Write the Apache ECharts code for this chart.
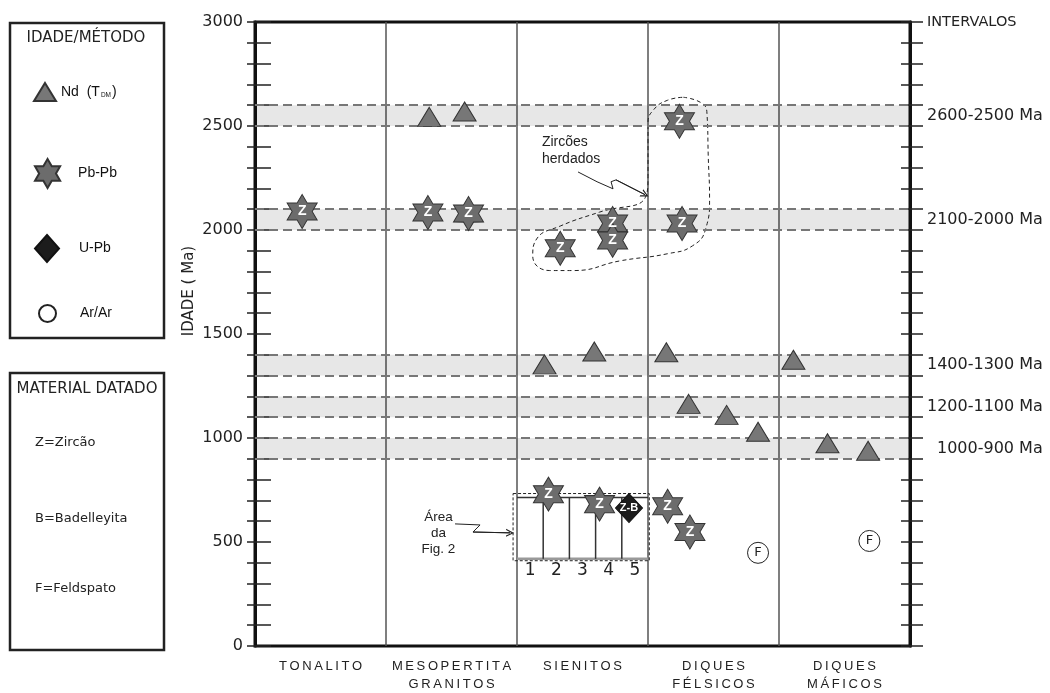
<!DOCTYPE html>
<html><head><meta charset="utf-8">
<script src="https://cdn.jsdelivr.net/npm/echarts@6/dist/echarts.min.js"></script>
<style>html,body{margin:0;padding:0;background:#fff}#c{width:1050px;height:693px}</style>
</head><body><div id="c"></div>
<script>
// ---------- data ----------
const categories = ['TONALITO', 'MESOPERTITA\nGRANITOS', 'SIENITOS', 'DIQUES\nFÉLSICOS', 'DIQUES\nMÁFICOS'];
const yMin = 0, yMax = 3000, yMinorStep = 100, yLabelStep = 500;

// Nd (T_DM) ages  [x position within 0..5 category span, age Ma]
const ndPoints = [[1.33, 2544], [1.60, 2570], [2.21, 1354], [2.59, 1416], [3.14, 1412], [3.31, 1164],
  [3.60, 1111], [3.84, 1030], [4.11, 1376], [4.37, 975], [4.68, 939]];
// Pb-Pb zircon ages
const pbPoints = [[0.36, 2089], [1.32, 2084], [1.63, 2079], [2.33, 1912], [2.73, 2031], [2.73, 1950],
  [3.24, 2523], [3.26, 2031], [2.24, 730], [2.63, 682], [3.15, 672], [3.32, 548]];
// U-Pb zircon-baddeleyite
const uPbPoints = [[2.855, 663]];
// Ar/Ar feldspar
const arPoints = [[3.84, 448], [4.69, 505]];

const bandRanges = [[2500, 2600], [2000, 2100], [1300, 1400], [1100, 1200], [900, 1000]];
const intervalLabelValues = [3000, 2550, 2050, 1350, 1150, 950];
const intervalLabels = ['INTERVALOS', '2600-2500 Ma', '2100-2000 Ma', '1400-1300 Ma', '1200-1100 Ma', '1000-900 Ma'];

// Annotation geometry (data coordinates)
const inheritedOutline = [[3.27, 2638], [3.41, 2610], [3.45, 2562], [3.46, 2352], [3.47, 2148], [3.44, 2005],
  [3.34, 1924], [3.15, 1886], [2.79, 1852], [2.43, 1805], [2.25, 1805], [2.12, 1876], [2.15, 1957],
  [2.33, 2019], [2.63, 2086], [2.98, 2157], [3.00, 2257], [3.00, 2433], [3.00, 2514], [3.04, 2576],
  [3.15, 2624], [3.27, 2638]];
const inheritedArrow = [[2.466, 2279], [2.611, 2232], [2.733, 2198], [2.718, 2232], [2.756, 2241], [2.977, 2170]];
const figArrow = [[1.527, 587], [1.718, 582], [1.664, 548], [1.947, 544]];
const figOuter = [[1.97, 733], [3.01, 733], [3.01, 410], [1.97, 410], [1.97, 733]];
const figTop = 714, figBottom = 419, figLeft = 2.0, figRight = 3.0;
const figDividers = [2.2, 2.4, 2.6, 2.8];
const figNumbers = ['1', '2', '3', '4', '5'];
const figNumberX = [2.1, 2.3, 2.5, 2.7, 2.9];
const figNumberY = 362;
const noteInherited = { pos: [2.19, 2380], text: 'Zircões\nherdados' };
const noteFig = { pos: [1.40, 543], text: 'Área\nda\nFig. 2' };

const materialItems = ['Z=Zircão', 'B=Badelleyita', 'F=Feldspato'];

// ---------- chart ----------
const spaced = s => s.split('\n').map(l => l.split('').join('\u2009')).join('\n');
const STAR = 'path://M50,0L64.5,24.9L93.3,25L79,50L93.3,75L64.5,75.1L50,100L35.5,75.1L6.7,75L21,50L6.7,25L35.5,24.9Z';
const CHEVRON = 'path://M0,10L5,0L10,10L8.4,10L5,3.2L1.6,10Z';
const GOTHIC = '"DejaVu Sans", sans-serif';
const ARIAL = '"Liberation Sans", Arial, sans-serif';

const chart = echarts.init(document.getElementById('c'), null, { renderer: 'canvas' });

const boundaries = [];
bandRanges.forEach(r => { boundaries.push(r[0], r[1]); });
const lastSeg = pts => [pts[pts.length - 2], pts[pts.length - 1]];

const yBase = { type: 'value', min: yMin, max: yMax, interval: yMinorStep, splitLine: { show: false } };

const option = {
  animation: false,
  backgroundColor: '#fff',
  grid: { left: 255, right: 140, top: 22, bottom: 42, show: true, borderColor: '#111', borderWidth: 3, backgroundColor: 'transparent' },
  xAxis: [
    {
      type: 'category', data: categories.map(spaced), boundaryGap: true, position: 'bottom',
      axisLine: { show: false }, axisTick: { show: false },
      splitLine: { show: true, interval: 0, lineStyle: { color: '#555', width: 1.5 } },
      axisLabel: { interval: 0, fontSize: 13, color: '#222', fontFamily: ARIAL, margin: 11, lineHeight: 18 }
    },
    { type: 'value', min: 0, max: 5, show: false }
  ],
  yAxis: [
    Object.assign({}, yBase, {
      position: 'left',
      axisLine: { show: true, lineStyle: { color: '#111', width: 3 } },
      axisTick: { show: true, inside: true, length: 16, lineStyle: { color: '#222', width: 1.5 } },
      axisLabel: { formatter: v => (v % yLabelStep === 0 ? String(v) : ''), fontSize: 16, color: '#222', fontFamily: GOTHIC, margin: 12 }
    }),
    Object.assign({}, yBase, {
      position: 'left',
      axisLine: { show: false },
      axisTick: { show: true, inside: false, length: 8, lineStyle: { color: '#222', width: 1.5 } },
      axisLabel: { show: false }
    }),
    Object.assign({}, yBase, {
      position: 'right',
      axisLine: { show: true, lineStyle: { color: '#111', width: 3 } },
      axisTick: { show: true, inside: true, length: 9, lineStyle: { color: '#222', width: 1.5 } },
      axisLabel: { show: false }
    }),
    Object.assign({}, yBase, {
      position: 'right',
      axisLine: { show: false },
      axisTick: { show: true, inside: false, length: 13, lineStyle: { color: '#222', width: 1.5 } },
      axisLabel: { show: false }
    }),
    {
      type: 'value', min: yMin, max: yMax, interval: 50, position: 'right',
      splitLine: { show: false }, axisLine: { show: false }, axisTick: { show: false },
      axisLabel: {
        margin: 17, color: '#222', fontFamily: GOTHIC,
        formatter: v => {
          const i = intervalLabelValues.indexOf(v);
          if (i < 0) return '';
          if (i === 0) return '{t|' + intervalLabels[i] + '}';
          if (i === intervalLabels.length - 1) return '{p|' + intervalLabels[i] + '}';
          return '{m|' + intervalLabels[i] + '}';
        },
        rich: {
          t: { fontSize: 14.5, fontFamily: GOTHIC, color: '#222' },
          m: { fontSize: 16, fontFamily: GOTHIC, color: '#222' },
          p: { fontSize: 16, fontFamily: GOTHIC, color: '#222', padding: [0, 0, 0, 10] }
        }
      }
    }
  ],
  legend: [
    {
      data: ['Nd'], left: 28, top: 77, itemWidth: 22, itemHeight: 18, selectedMode: false,
      formatter: () => '{a|Nd  (T}{s|DM}{a|)}',
      textStyle: { rich: { a: { fontSize: 14, fontFamily: ARIAL, color: '#111' }, s: { fontSize: 6.5, fontFamily: ARIAL, color: '#111', padding: [7, 1, 0, 1] } } }
    },
    { data: ['Pb-Pb'], left: 29, top: 153, itemWidth: 27, itemHeight: 29, selectedMode: false,
      textStyle: { fontSize: 14, fontFamily: ARIAL, color: '#111', padding: [0, 0, 0, 12] } },
    { data: ['U-Pb'], left: 29, top: 229, itemWidth: 24, itemHeight: 27, selectedMode: false,
      textStyle: { fontSize: 14, fontFamily: ARIAL, color: '#111', padding: [0, 0, 0, 15] } },
    { data: ['Ar/Ar'], left: 33, top: 299, itemWidth: 17, itemHeight: 17, selectedMode: false,
      textStyle: { fontSize: 14, fontFamily: ARIAL, color: '#111', padding: [0, 0, 0, 19] } }
  ],
  graphic: [
    { type: 'rect', shape: { x: 10, y: 23, width: 154, height: 315 }, style: { fill: 'none', stroke: '#222', lineWidth: 2.5 } },
    { type: 'rect', shape: { x: 10, y: 373, width: 154, height: 277 }, style: { fill: 'none', stroke: '#222', lineWidth: 2.5 } },
    { type: 'text', x: 86, y: 38, style: { text: 'IDADE/MÉTODO', font: '15px ' + GOTHIC, fill: '#222', textAlign: 'center', textVerticalAlign: 'middle' } },
    { type: 'text', x: 87, y: 389, style: { text: 'MATERIAL DATADO', font: '15px ' + GOTHIC, fill: '#222', textAlign: 'center', textVerticalAlign: 'middle' } },
    { type: 'text', x: 35, y: 443, style: { text: materialItems[0], font: '13px ' + GOTHIC, fill: '#222', textAlign: 'left', textVerticalAlign: 'middle' } },
    { type: 'text', x: 35, y: 519, style: { text: materialItems[1], font: '13px ' + GOTHIC, fill: '#222', textAlign: 'left', textVerticalAlign: 'middle' } },
    { type: 'text', x: 35, y: 589, style: { text: materialItems[2], font: '13px ' + GOTHIC, fill: '#222', textAlign: 'left', textVerticalAlign: 'middle' } },
    { type: 'text', x: 189, y: 291, rotation: Math.PI / 2, style: { text: 'IDADE ( Ma)', font: '15px ' + GOTHIC, fill: '#222', textAlign: 'center', textVerticalAlign: 'middle' } }
  ],
  series: [
    {
      name: 'bands', type: 'line', xAxisIndex: 1, yAxisIndex: 0, data: [], z: 1, silent: true,
      markArea: { silent: true, itemStyle: { color: 'rgba(0,0,0,0.095)' }, data: bandRanges.map(r => [{ yAxis: r[0] }, { yAxis: r[1] }]) },
      markLine: { silent: true, symbol: ['none', 'none'], label: { show: false },
        lineStyle: { type: [9, 5], color: '#777', width: 2 }, data: boundaries.map(v => ({ yAxis: v })) }
    },
    {
      name: 'fig2frame', type: 'lines', coordinateSystem: 'cartesian2d', xAxisIndex: 1, yAxisIndex: 0, polyline: true,
      z: 2, silent: true, symbol: 'none', lineStyle: { opacity: 1 },
      data: [
        { coords: figOuter, lineStyle: { color: '#222', width: 1, type: [3, 2], opacity: 1 } },
        { coords: [[figLeft, figTop], [figRight, figTop]], lineStyle: { color: '#333', width: 1.5, type: 'solid', opacity: 1 } },
        { coords: [[figLeft, figBottom], [figRight, figBottom]], lineStyle: { color: '#999', width: 2.5, type: 'solid', opacity: 1 } }
      ].concat(figDividers.map(x => ({ coords: [[x, figBottom], [x, figTop]], lineStyle: { color: '#333', width: 1.5, type: 'solid', opacity: 1 } })))
    },
    {
      name: 'outline', type: 'line', xAxisIndex: 1, yAxisIndex: 0, data: inheritedOutline, smooth: 0.5, symbol: 'none',
      z: 2, silent: true, lineStyle: { color: '#222', width: 1, type: [4, 3] }
    },
    {
      name: 'arrowBodies', type: 'lines', coordinateSystem: 'cartesian2d', xAxisIndex: 1, yAxisIndex: 0, polyline: true,
      z: 4, silent: true, symbol: 'none',
      lineStyle: { color: '#222', width: 1, opacity: 1, curveness: 0 },
      data: [{ coords: inheritedArrow }, { coords: figArrow }]
    },
    {
      name: 'arrowHeads', type: 'lines', coordinateSystem: 'cartesian2d', xAxisIndex: 1, yAxisIndex: 0, polyline: false,
      z: 4, silent: true, symbol: ['none', CHEVRON], symbolSize: [10, 8],
      lineStyle: { color: '#222', width: 1, opacity: 1, curveness: 0 },
      data: [{ coords: lastSeg(inheritedArrow) }, { coords: lastSeg(figArrow) }]
    },
    {
      name: 'Nd', type: 'scatter', xAxisIndex: 1, yAxisIndex: 0, data: ndPoints, z: 5,
      symbol: 'triangle', symbolSize: [23, 19],
      itemStyle: { color: '#777777', borderColor: '#333', borderWidth: 1, opacity: 1 }
    },
    {
      name: 'Pb-Pb', type: 'scatter', xAxisIndex: 1, yAxisIndex: 0, data: pbPoints, z: 5,
      symbol: STAR, symbolSize: [30, 34],
      itemStyle: { color: '#6c6c6c', borderColor: '#333', borderWidth: 1, opacity: 1 },
      label: { show: true, position: 'inside', formatter: 'Z', color: '#fff', fontSize: 14, fontWeight: 'bold', fontFamily: ARIAL }
    },
    {
      name: 'U-Pb', type: 'scatter', xAxisIndex: 1, yAxisIndex: 0, data: uPbPoints, z: 6,
      symbol: 'diamond', symbolSize: [27, 29],
      itemStyle: { color: '#1c1c1c', borderColor: '#111', borderWidth: 1, opacity: 1 },
      label: { show: true, position: 'inside', formatter: 'Z-B', color: '#fff', fontSize: 11, fontWeight: 'bold', fontFamily: ARIAL }
    },
    {
      name: 'Ar/Ar', type: 'scatter', xAxisIndex: 1, yAxisIndex: 0, data: arPoints, z: 5,
      symbol: 'circle', symbolSize: 21,
      itemStyle: { color: '#fff', borderColor: '#222', borderWidth: 1, opacity: 1 },
      label: { show: true, position: 'inside', formatter: 'F', color: '#222', fontSize: 13, fontFamily: GOTHIC }
    },
    {
      name: 'notes', type: 'scatter', xAxisIndex: 1, yAxisIndex: 0, z: 6, silent: true, symbolSize: 0,
      itemStyle: { opacity: 1 },
      data: [
        { value: noteInherited.pos, label: { show: true, position: 'inside', align: 'left', formatter: noteInherited.text, fontSize: 14, lineHeight: 17, color: '#222', fontFamily: ARIAL } },
        { value: noteFig.pos, label: { show: true, position: 'inside', align: 'center', formatter: noteFig.text, fontSize: 13.5, lineHeight: 16, color: '#222', fontFamily: ARIAL } }
      ].concat(figNumbers.map((t, i) => ({
        value: [figNumberX[i], figNumberY],
        label: { show: true, position: 'inside', formatter: t, fontSize: 17, color: '#222', fontFamily: GOTHIC }
      })))
    }
  ]
};
chart.setOption(option);
</script></body></html>
